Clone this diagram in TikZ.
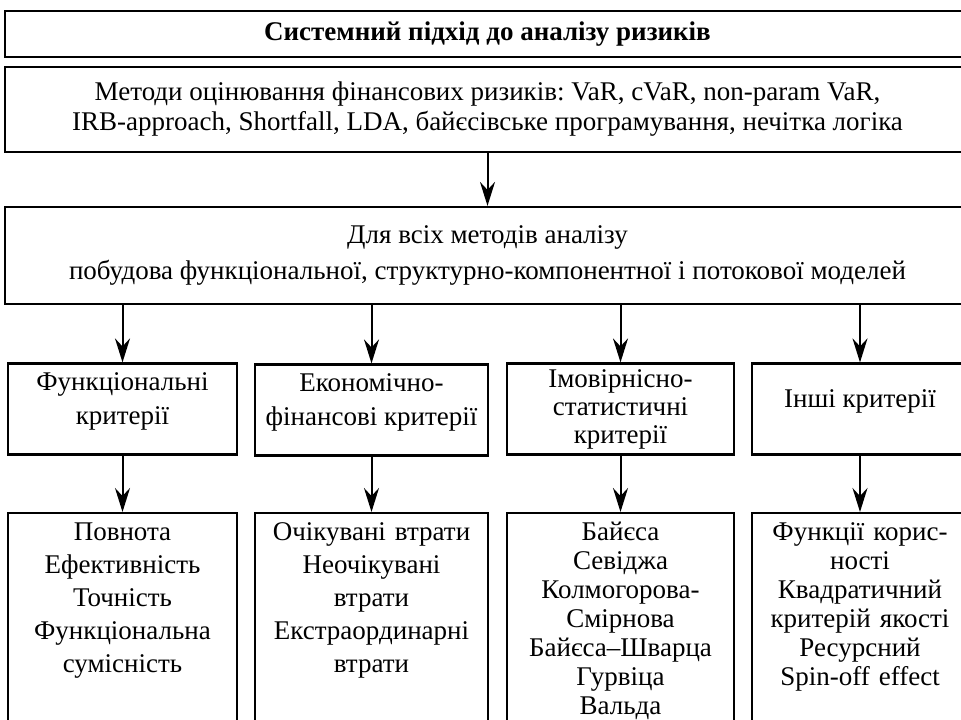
\documentclass[tikz,border=0pt]{standalone}
\usepackage{fontspec}
\setmainfont{Liberation Serif}
\usetikzlibrary{arrows.meta}
\frenchspacing

\tikzset{
  box/.style={draw, line width=2.2pt, align=center, inner sep=0pt},
  critbox/.style={box, minimum height=91pt, text depth=20pt},
  listbox/.style={box, anchor=north, inner ysep=8pt, text height=19pt, text depth=215pt},
  arrow/.style={-{Stealth[length=24pt, width=15pt, inset=8pt]}, line width=2pt},
}

\begin{document}
\begin{tikzpicture}[x=1pt, y=-1pt, font=\fontsize{27}{31}\selectfont]
    \useasboundingbox (0,0) rectangle (961,720);
    \clip (0,0) rectangle (961,720);

    % Title
    \node[box, minimum width=965pt, minimum height=46pt, font=\fontsize{27}{31}\selectfont\bfseries] (title) at (487.5,34) {Системний підхід до аналізу ризиків};

    % Methods
    \node[box, minimum width=965pt, minimum height=85pt, font=\fontsize{27}{30}\selectfont] (methods) at (487.5,109.5) {Методи оцінювання фінансових ризиків: VaR, cVaR, non-param VaR,\\IRB-approach, Shortfall, LDA, байєсівське програмування, нечітка логіка};

    % Models
    \node[box, minimum width=965pt, minimum height=97pt, font=\fontsize{27}{36}\selectfont] (models) at (487.5,255.5) {Для всіх методів аналізу\\побудова функціональної, структурно-компонентної і потокової моделей};

    % Criteria
    \node[critbox, minimum width=229pt, font=\fontsize{27}{34}\selectfont] (func) at (122.5,409) {Функціональні\\критерії};
    \node[critbox, minimum width=233pt, font=\fontsize{27}{34}\selectfont] (econ) at (371.5,410) {Економічно-\\фінансові критерії};
    \node[critbox, minimum width=227pt, text depth={}, font=\fontsize{27}{28}\selectfont] (prob) at (620.5,409) {Імовірнісно-\\статистичні\\критерії};
    \node[critbox, minimum width=216pt] (other) at (860,409) {Інші критерії};

    % Lists
    \node[listbox, minimum width=229pt, text width=225pt, font=\fontsize{27}{33}\selectfont] (funclist) at (122.5,512) {Повнота\\Ефективність\\Точність\\Функціональна\\сумісність};
    \node[listbox, minimum width=233pt, text width=229pt, font=\fontsize{27}{33}\selectfont] (econlist) at (371.5,512) {Очікувані втрати\\Неочікувані\\втрати\\Екстраординарні\\втрати};
    \node[listbox, minimum width=227pt, text width=223pt, font=\fontsize{27}{29}\selectfont] (problist) at (620.5,512) {Байєса\\Севіджа\\Колмогорова-\\Смірнова\\Байєса--Шварца\\Гурвіца\\Вальда};
    \node[listbox, minimum width=216pt, text width=212pt, font=\fontsize{27}{29}\selectfont] (otherlist) at (860,512) {Функції корис-\\ності\\Квадратичний\\критерій якості\\Ресурсний\\Spin-off effect};

    % Arrows
    \draw[arrow] (methods) -- (models);
    \foreach \crit/\lst in {func/funclist, econ/econlist, prob/problist, other/otherlist} {
        \draw[arrow] (models.south -| \crit.north) -- (\crit.north);
        \draw[arrow] (\crit.south) -- (\lst.north);
    }
\end{tikzpicture}
\end{document}
